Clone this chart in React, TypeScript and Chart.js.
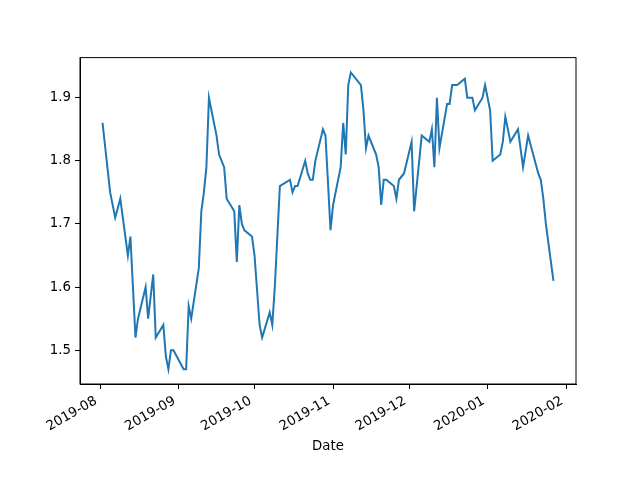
import React, { useEffect, useRef } from "react";
import { Chart, registerables } from "chart.js";

Chart.register(...registerables);

const dates: string[] = [
  "2019-08-02", "2019-08-05", "2019-08-07", "2019-08-09", "2019-08-12", "2019-08-13", "2019-08-15", "2019-08-16",
  "2019-08-19", "2019-08-20", "2019-08-22", "2019-08-23", "2019-08-26", "2019-08-27", "2019-08-28", "2019-08-29",
  "2019-08-30", "2019-09-03", "2019-09-04", "2019-09-05", "2019-09-06", "2019-09-09", "2019-09-10", "2019-09-11",
  "2019-09-12", "2019-09-13", "2019-09-16", "2019-09-17", "2019-09-19", "2019-09-20", "2019-09-23", "2019-09-24",
  "2019-09-25", "2019-09-26", "2019-09-27", "2019-09-30", "2019-10-01", "2019-10-03", "2019-10-04", "2019-10-07",
  "2019-10-08", "2019-10-09", "2019-10-11", "2019-10-15", "2019-10-16", "2019-10-17", "2019-10-18", "2019-10-21",
  "2019-10-22", "2019-10-23", "2019-10-24", "2019-10-25", "2019-10-28", "2019-10-29", "2019-10-31", "2019-11-01",
  "2019-11-04", "2019-11-05", "2019-11-06", "2019-11-07", "2019-11-08", "2019-11-12", "2019-11-13", "2019-11-14",
  "2019-11-15", "2019-11-18", "2019-11-19", "2019-11-20", "2019-11-21", "2019-11-22", "2019-11-25", "2019-11-26",
  "2019-11-27", "2019-11-29", "2019-12-02", "2019-12-03", "2019-12-04", "2019-12-06", "2019-12-09", "2019-12-10",
  "2019-12-11", "2019-12-12", "2019-12-13", "2019-12-16", "2019-12-17", "2019-12-18", "2019-12-20", "2019-12-23",
  "2019-12-24", "2019-12-26", "2019-12-27", "2019-12-30", "2019-12-31", "2020-01-02", "2020-01-03", "2020-01-06",
  "2020-01-07", "2020-01-08", "2020-01-10", "2020-01-13", "2020-01-15", "2020-01-17", "2020-01-21", "2020-01-22",
  "2020-01-23", "2020-01-24", "2020-01-27",
];

const values: number[] = [
  1.86, 1.75, 1.71, 1.74, 1.65, 1.68, 1.52, 1.55,
  1.60, 1.55, 1.62, 1.52, 1.54, 1.49, 1.47, 1.50,
  1.50, 1.47, 1.47, 1.57, 1.55, 1.63, 1.72, 1.75,
  1.79, 1.90, 1.84, 1.81, 1.79, 1.74, 1.72, 1.64,
  1.73, 1.70, 1.69, 1.68, 1.65, 1.54, 1.52, 1.56,
  1.54, 1.60, 1.76, 1.77, 1.75, 1.76, 1.76, 1.80,
  1.78, 1.77, 1.77, 1.80, 1.85, 1.84, 1.69, 1.73,
  1.79, 1.86, 1.81, 1.92, 1.94, 1.92, 1.88, 1.82,
  1.84, 1.81, 1.79, 1.73, 1.77, 1.77, 1.76, 1.74,
  1.77, 1.78, 1.83, 1.72, 1.76, 1.84, 1.83, 1.85,
  1.79, 1.90, 1.82, 1.89, 1.89, 1.92, 1.92, 1.93,
  1.90, 1.90, 1.88, 1.90, 1.92, 1.88, 1.80, 1.81,
  1.83, 1.87, 1.83, 1.85, 1.79, 1.84, 1.78, 1.77,
  1.74, 1.70, 1.61,
];

const xTickLabels: string[] = ["2019-08", "2019-09", "2019-10", "2019-11", "2019-12", "2020-01", "2020-02"];
const yTickValues: number[] = [1.5, 1.6, 1.7, 1.8, 1.9];
const xTitle = "Date";

const toDay = (s: string): number => {
  const [y, m, d] = s.split("-").map(Number);
  return Date.UTC(y, m - 1, d || 1) / 86400000;
};

const FONT = { family: "'DejaVu Sans', sans-serif", size: 13.33 };

export default function App() {
  const ref = useRef<HTMLCanvasElement | null>(null);

  useEffect(() => {
    if (!ref.current) return;
    const pts = dates.map((d, i) => ({ x: toDay(d), y: values[i] }));
    const xs = pts.map((p) => p.x);
    const x0 = Math.min(...xs);
    const x1 = Math.max(...xs);
    const xs5 = (x1 - x0) * 0.05;
    const y0 = Math.min(...values);
    const y1 = Math.max(...values);
    const ys5 = (y1 - y0) * 0.05;
    const xTickVals = xTickLabels.map((l) => toDay(l));

    const frame = {
      id: "frame",
      afterDatasetsDraw(chart: any) {
        const { ctx, chartArea: a } = chart;
        ctx.save();
        ctx.strokeStyle = "#000";
        ctx.lineWidth = 1;
        ctx.strokeRect(a.left, a.top, a.right - a.left, a.bottom - a.top);
        ctx.restore();
      },
    };

    const chart = new Chart(ref.current, {
      type: "line",
      data: {
        datasets: [
          {
            data: pts,
            borderColor: "#1f77b4",
            borderWidth: 2,
            pointRadius: 0,
            tension: 0,
            fill: false,
          },
        ],
      },
      options: {
        animation: false,
        responsive: false,
        maintainAspectRatio: false,
        layout: { padding: { left: 0, top: 57.6, right: 64, bottom: 21.3 } },
        plugins: { legend: { display: false }, tooltip: { enabled: false } },
        scales: {
          x: {
            type: "linear",
            min: x0 - xs5,
            max: x1 + xs5,
            afterBuildTicks: (scale: any) => {
              scale.ticks = xTickVals.map((v) => ({ value: v }));
            },
            afterFit: (scale: any) => {
              scale.height = 74.7;
            },
            ticks: {
              autoSkip: false,
              minRotation: 30,
              maxRotation: 30,
              padding: 4,
              labelOffset: -4,
              color: "#000",
              font: FONT,
              callback: (v: any) => {
                const i = xTickVals.indexOf(Number(v));
                return i >= 0 ? xTickLabels[i] : "";
              },
            },
            grid: { display: true, drawOnChartArea: false, tickLength: 5, color: "#000" },
            border: { display: true, color: "#000", width: 1 },
            title: { display: true, text: xTitle, color: "#000", font: FONT, padding: { top: 4, bottom: 4 } },
          },
          y: {
            type: "linear",
            min: y0 - ys5,
            max: y1 + ys5,
            afterBuildTicks: (scale: any) => {
              scale.ticks = yTickValues.map((v) => ({ value: v }));
            },
            afterFit: (scale: any) => {
              scale.width = 80;
            },
            ticks: {
              padding: 4,
              color: "#000",
              font: FONT,
              callback: (v: any) => Number(v).toFixed(1),
            },
            grid: { display: true, drawOnChartArea: false, tickLength: 5, color: "#000" },
            border: { display: true, color: "#000", width: 1 },
          },
        },
      },
      plugins: [frame],
    } as any);

    return () => chart.destroy();
  }, []);

  return (
    <div style={{ position: "absolute", left: 0, top: 0, width: 640, height: 480, background: "#fff" }}>
      <canvas ref={ref} width={640} height={480} style={{ width: 640, height: 480 }} />
    </div>
  );
}
